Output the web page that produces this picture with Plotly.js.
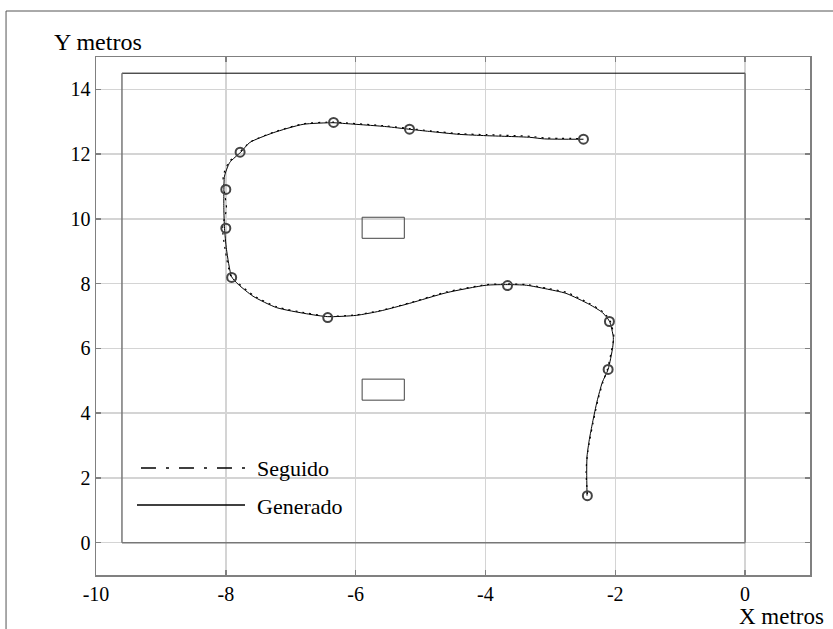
<!DOCTYPE html>
<html>
<head>
<meta charset="utf-8">
<script src="https://cdn.plot.ly/plotly-3.0.1.min.js"></script>
<style>html,body{margin:0;padding:0;background:#fff;}#chart{width:833px;height:629px;}</style>
</head>
<body>
<div id="chart"></div>
<script>
// Generated path (X metros, Y metros)
const genX = [-2.435,-2.44,-2.435,-2.40,-2.35,-2.28,-2.20,-2.11,-2.04,-2.03,-2.09,-2.20,-2.40,-2.76,-3.07,-3.37,-3.66,-3.99,-4.60,-5.17,-5.63,-5.99,-6.43,-6.76,-7.22,-7.58,-7.81,-7.91,-7.99,-8.02,-8.03,-8.03,-8.02,-7.94,-7.77,-7.63,-7.27,-6.81,-6.35,-6.20,-5.53,-5.18,-4.86,-4.40,-3.99,-3.32,-3.09,-2.49];
const genY = [1.45,2.16,2.67,3.18,3.71,4.37,4.95,5.35,6.03,6.34,6.84,7.11,7.36,7.70,7.84,7.95,7.97,7.95,7.72,7.39,7.15,7.02,6.98,7.07,7.26,7.61,7.98,8.21,9.06,9.70,10.30,10.80,11.32,11.74,12.06,12.36,12.66,12.92,12.97,12.95,12.85,12.77,12.70,12.61,12.57,12.52,12.47,12.46];
// Followed path
const segX = [-2.43,-2.45,-2.43,-2.39,-2.34,-2.27,-2.19,-2.12,-2.05,-2.02,-2.08,-2.19,-2.39,-2.75,-3.06,-3.36,-3.65,-3.98,-4.61,-5.16,-5.62,-5.98,-6.42,-6.75,-7.21,-7.57,-7.80,-7.92,-8.01,-8.05,-7.99,-8.02,-8.04,-7.95,-7.78,-7.62,-7.26,-6.80,-6.34,-6.19,-5.52,-5.17,-4.85,-4.39,-3.98,-3.31,-3.08,-2.50];
const segY = [1.50,2.20,2.70,3.20,3.72,4.38,4.96,5.36,6.02,6.35,6.86,7.13,7.38,7.73,7.86,7.97,7.99,7.97,7.74,7.41,7.17,7.04,6.99,7.09,7.28,7.63,8.00,8.22,9.05,9.72,10.32,10.82,11.33,11.76,12.08,12.38,12.68,12.94,12.99,12.97,12.87,12.79,12.72,12.63,12.60,12.55,12.50,12.48];
// Waypoints
const wpX = [-2.43,-2.11,-2.09,-3.66,-6.43,-7.91,-8.00,-8.00,-7.78,-6.34,-5.17,-2.49];
const wpY = [1.45,5.35,6.83,7.94,6.95,8.19,9.71,10.91,12.06,12.98,12.77,12.46];
// Arena and obstacles
const arenaX = [-9.6, 0];
const arenaY = [0, 14.5];
const obsX0 = [-5.9, -5.9];
const obsX1 = [-5.25, -5.25];
const obsY0 = [9.4, 4.4];
const obsY1 = [10.05, 5.05];
// Tick values
const xTicks = [-10,-8,-6,-4,-2,0];
const yTicks = [0,2,4,6,8,10,12,14];

const FONT = 'Liberation Serif';

const traces = [
  {x: segX, y: segY, type:'scatter', mode:'lines', name:'Seguido',
   line:{color:'#000', width:1.2, dash:'2px,5px', shape:'spline', smoothing:0.6}, showlegend:false, hoverinfo:'skip'},
  {x: genX, y: genY, type:'scatter', mode:'lines', name:'Generado',
   line:{color:'#000', width:1, shape:'spline', smoothing:0.6}, showlegend:false},
  {x: wpX, y: wpY, type:'scatter', mode:'markers', name:'Waypoints',
   marker:{symbol:'circle-open', size:9, color:'#444', line:{width:2, color:'#444'}}, showlegend:false}
];

const shapes = [];
// arena: top black, others grey
shapes.push({type:'line', xref:'x', yref:'y', x0:arenaX[0], x1:arenaX[1], y0:arenaY[1], y1:arenaY[1], line:{color:'#000', width:1}});
shapes.push({type:'line', xref:'x', yref:'y', x0:arenaX[0], x1:arenaX[0], y0:arenaY[0], y1:arenaY[1], line:{color:'#777', width:1.5}});
shapes.push({type:'line', xref:'x', yref:'y', x0:arenaX[1], x1:arenaX[1], y0:arenaY[0], y1:arenaY[1], line:{color:'#777', width:1.5}});
shapes.push({type:'line', xref:'x', yref:'y', x0:arenaX[0], x1:arenaX[1], y0:arenaY[0], y1:arenaY[0], line:{color:'#777', width:1.5}});
for (let i=0;i<obsX0.length;i++){
  shapes.push({type:'rect', xref:'x', yref:'y', x0:obsX0[i], x1:obsX1[i], y0:obsY0[i], y1:obsY1[i], line:{color:'#444', width:1}});
}
// outer frame
shapes.push({type:'rect', xref:'paper', yref:'paper', x0:-0.126, x1:1.3, y0:-0.4, y1:1.0888, line:{color:'#555', width:1}});
// legend samples
shapes.push({type:'line', xref:'paper', yref:'paper', x0:0.063, x1:0.2087, y0:0.2066, y1:0.2066, line:{color:'#000', width:1.5, dash:'15px,10px,3px,10px'}});
shapes.push({type:'line', xref:'paper', yref:'paper', x0:0.0574, x1:0.2087, y0:0.1351, y1:0.1351, line:{color:'#000', width:1.5}});

const annotations = [
  {text:'Y metros', xref:'paper', yref:'paper', x:-0.0616, y:1.029, xanchor:'left', yanchor:'middle', showarrow:false, font:{family:FONT, size:24, color:'#000'}},
  {text:'X metros', xref:'paper', yref:'paper', x:1.0224, y:-0.081, xanchor:'right', yanchor:'middle', showarrow:false, font:{family:FONT, size:23, color:'#000'}},
  {text:'Seguido', xref:'paper', yref:'paper', x:0.2227, y:0.2047, xanchor:'left', yanchor:'middle', showarrow:false, font:{family:FONT, size:22, color:'#000'}},
  {text:'Generado', xref:'paper', yref:'paper', x:0.2227, y:0.1331, xanchor:'left', yanchor:'middle', showarrow:false, font:{family:FONT, size:22, color:'#000'}}
];

const axisCommon = {
  showgrid:true, gridcolor:'#d4d4d4', gridwidth:1.5,
  showline:true, linecolor:'#808080', linewidth:1.5, mirror:'ticks',
  ticks:'inside', ticklen:5, tickcolor:'#808080', tickwidth:1.5,
  zeroline:false, tickfont:{family:FONT, size:20, color:'#000'}
};

const layout = {
  width:833, height:629,
  margin:{l:96, r:23, t:57, b:54},
  paper_bgcolor:'#fff', plot_bgcolor:'#fff',
  showlegend:false,
  font:{family:FONT},
  xaxis: Object.assign({}, axisCommon, {range:[-10,1], tickvals:xTicks, ticktext:xTicks.map(String)}),
  yaxis: Object.assign({}, axisCommon, {range:[-1,15], tickvals:yTicks, ticktext:yTicks.map(String)}),
  shapes: shapes,
  annotations: annotations
};

Plotly.newPlot('chart', traces, layout, {displayModeBar:false, staticPlot:true});
</script>
</body>
</html>
